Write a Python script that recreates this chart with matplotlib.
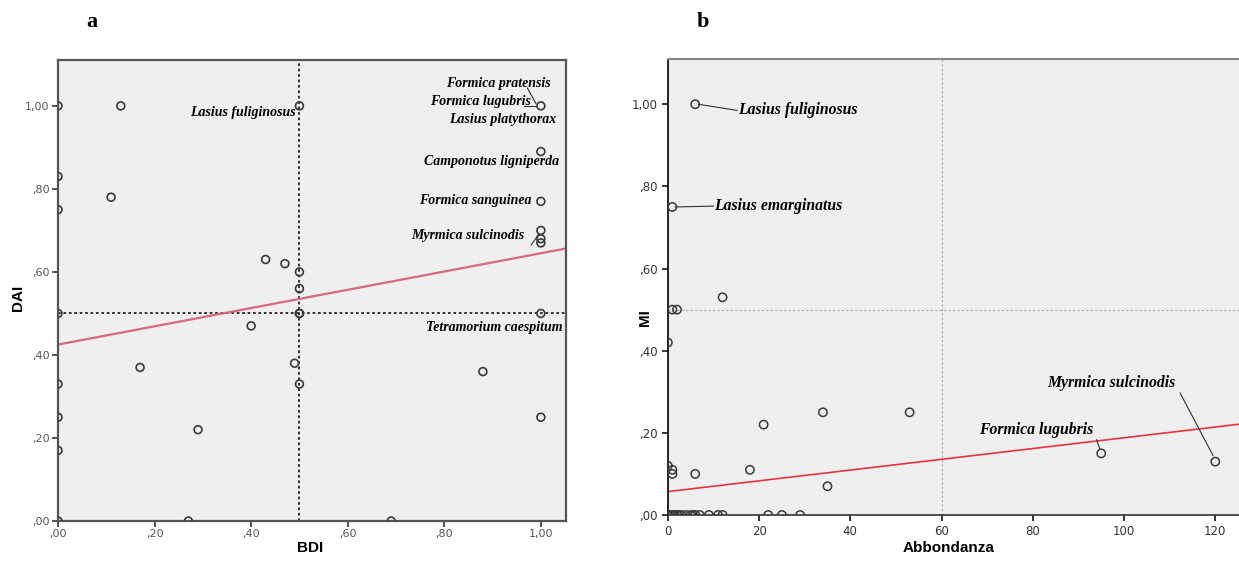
import matplotlib.pyplot as plt
import numpy as np

# panel a: BDI vs DAI
bdi = [0, 0.13, 0.50, 1.00, 0, 0, 0.11, 1.00, 1.00, 1.00, 1.00, 1.00,
       0.43, 0.47, 0.50, 0.50, 0, 0.50, 0.50, 1.00, 0.40, 0.17, 0.49, 0.50,
       0.88, 0, 0, 0, 0.29, 1.00, 0, 0.27, 0.69]
dai = [1.00, 1.00, 1.00, 1.00, 0.83, 0.75, 0.78, 0.89, 0.77, 0.70, 0.68, 0.67,
       0.63, 0.62, 0.60, 0.56, 0.50, 0.50, 0.50, 0.50, 0.47, 0.37, 0.38, 0.33,
       0.36, 0.33, 0.25, 0.17, 0.22, 0.25, 0.00, 0.00, 0.00]
fit_a = (0.425, 0.22)   # intercept, slope

# panel b: Abbondanza vs MI
abb = [6, 1, 12, 1, 2, 0, 0, 1, 1, 6, 18, 21, 34, 53, 35, 95, 120,
       0, 0.5, 1, 1.5, 2, 2.5, 3, 4, 5, 5.5, 6, 7, 9, 11, 12, 22, 25, 29]
mi = [1.00, 0.75, 0.53, 0.50, 0.50, 0.42, 0.12, 0.11, 0.10, 0.10, 0.11, 0.22,
      0.25, 0.25, 0.07, 0.15, 0.13,
      0, 0, 0, 0, 0, 0, 0, 0, 0, 0, 0, 0, 0, 0, 0, 0, 0, 0]
fit_b = (0.057, 0.00131)

y_ticks = [0, 0.2, 0.4, 0.6, 0.8, 1.0]
y_labels = [',00', ',20', ',40', ',60', ',80', '1,00']
xb_ticks = [0, 20, 40, 60, 80, 100, 120]

sp_font = dict(family='Liberation Serif', weight='bold', style='italic')
lab_font = dict(family='Liberation Sans', weight='bold', fontsize=11)
bg = '#efefef'
pt_col = '#3a3a3a'

fig = plt.figure(figsize=(12.39, 5.68), dpi=100)
ax1 = fig.add_axes([0.0468, 0.0827, 0.41, 0.8113])
ax2 = fig.add_axes([0.539, 0.0933, 0.461, 0.8027])

# ---- panel a
ax1.set_facecolor(bg)
ax1.set_xlim(0, 1.052)
ax1.set_ylim(0, 1.11)
ax1.axvline(0.5, color='#222222', ls=(0, (1.5, 1.5)), lw=1.3, zorder=1)
ax1.axhline(0.5, color='#222222', ls=(0, (1.5, 1.5)), lw=1.3, zorder=1)
xx = np.array([0, 1.052])
ax1.plot(xx, fit_a[0] + fit_a[1] * xx, color='#d46a7a', lw=1.6, zorder=2)
ax1.scatter(bdi, dai, s=32, facecolors='none', edgecolors=pt_col, linewidths=1.2, zorder=3)
ax1.set_xticks([0, 0.2, 0.4, 0.6, 0.8, 1.0])
ax1.set_xticklabels(y_labels)
ax1.set_yticks(y_ticks)
ax1.set_yticklabels(y_labels)
for s in ax1.spines.values():
    s.set_color('#555555')
    s.set_linewidth(1.6)
ax1.tick_params(direction='out', length=4, width=1.2, colors='#333333', labelsize=8,
                labelcolor='#555555', pad=2)
fig.text(310 / 1239, 1 - 548 / 568, 'BDI', ha='center', va='center', **lab_font)
fig.text(18 / 1239, 1 - 298 / 568, 'DAI', ha='center', va='center', rotation=90, **lab_font)

ax1.text(0.493, 0.985, 'Lasius fuliginosus', ha='right', va='center', fontsize=10, **sp_font)
ax1.text(1.02, 1.055, 'Formica pratensis', ha='right', va='center', fontsize=10, **sp_font)
ax1.text(0.98, 1.01, 'Formica lugubris', ha='right', va='center', fontsize=10, **sp_font)
ax1.text(1.033, 0.966, 'Lasius platythorax', ha='right', va='center', fontsize=10, **sp_font)
ax1.text(1.037, 0.865, 'Camponotus ligniperda', ha='right', va='center', fontsize=10, **sp_font)
ax1.text(0.98, 0.773, 'Formica sanguinea', ha='right', va='center', fontsize=10, **sp_font)
ax1.text(0.965, 0.687, 'Myrmica sulcinodis', ha='right', va='center', fontsize=10, **sp_font)
ax1.text(1.045, 0.467, 'Tetramorium caespitum', ha='right', va='center', fontsize=10, **sp_font)
ax1.plot([0.972, 0.99], [1.043, 1.005], color='#333333', lw=0.8)
ax1.plot([0.965, 0.99], [1.0, 1.0], color='#333333', lw=0.8)
ax1.plot([0.98, 0.995], [0.665, 0.69], color='#333333', lw=0.8)

# ---- panel b
ax2.set_facecolor(bg)
ax2.set_xlim(0, 125.2)
ax2.set_ylim(0, 1.11)
ax2.axvline(60, color='#aaaaaa', ls=(0, (2, 2)), lw=0.8, zorder=1)
ax2.axhline(0.5, color='#aaaaaa', ls=(0, (2, 2)), lw=0.8, zorder=1)
xx = np.array([0, 125.2])
ax2.plot(xx, fit_b[0] + fit_b[1] * xx, color='#e8333f', lw=1.2, zorder=2)
ax2.scatter(abb, mi, s=36, facecolors='none', edgecolors=pt_col, linewidths=1.1, zorder=3)
ax2.set_xticks(xb_ticks)
ax2.set_yticks(y_ticks)
ax2.set_yticklabels(y_labels)
ax2.spines['right'].set_visible(False)
ax2.spines['top'].set_color('#888888')
ax2.spines['top'].set_linewidth(1.5)
ax2.spines['left'].set_color('black')
ax2.spines['bottom'].set_color('#333333')
ax2.spines['left'].set_linewidth(1.2)
ax2.spines['bottom'].set_linewidth(1.2)
ax2.tick_params(direction='out', length=4, width=1.1, labelsize=8.5, labelcolor='#333333')
fig.text(949 / 1239, 1 - 548 / 568, 'Abbondanza', ha='center', va='center', **lab_font)
fig.text(645 / 1239, 1 - 318 / 568, 'MI', ha='center', va='center', rotation=90, **lab_font)

ax2.text(15.4, 0.985, 'Lasius fuliginosus', ha='left', va='center', fontsize=11.3, **sp_font)
ax2.plot([6.7, 15.2], [1.0, 0.985], color='#333333', lw=0.8)
ax2.text(10.1, 0.752, 'Lasius emarginatus', ha='left', va='center', fontsize=11.3, **sp_font)
ax2.plot([1.6, 10.0], [0.75, 0.752], color='#333333', lw=0.8)
ax2.text(83.1, 0.321, 'Myrmica sulcinodis', ha='left', va='center', fontsize=11.3, **sp_font)
ax2.plot([112.3, 119.5], [0.297, 0.145], color='#333333', lw=0.8)
ax2.text(68.2, 0.207, 'Formica lugubris', ha='left', va='center', fontsize=11.3, **sp_font)
ax2.plot([94.0, 94.7], [0.183, 0.16], color='#333333', lw=0.8)

fig.text(0.074, 0.961, 'a', family='Liberation Serif', weight='bold', fontsize=16,
         ha='center', va='center')
fig.text(0.567, 0.961, 'b', family='Liberation Serif', weight='bold', fontsize=16,
         ha='center', va='center')

fig.savefig('out.png', dpi=100)
